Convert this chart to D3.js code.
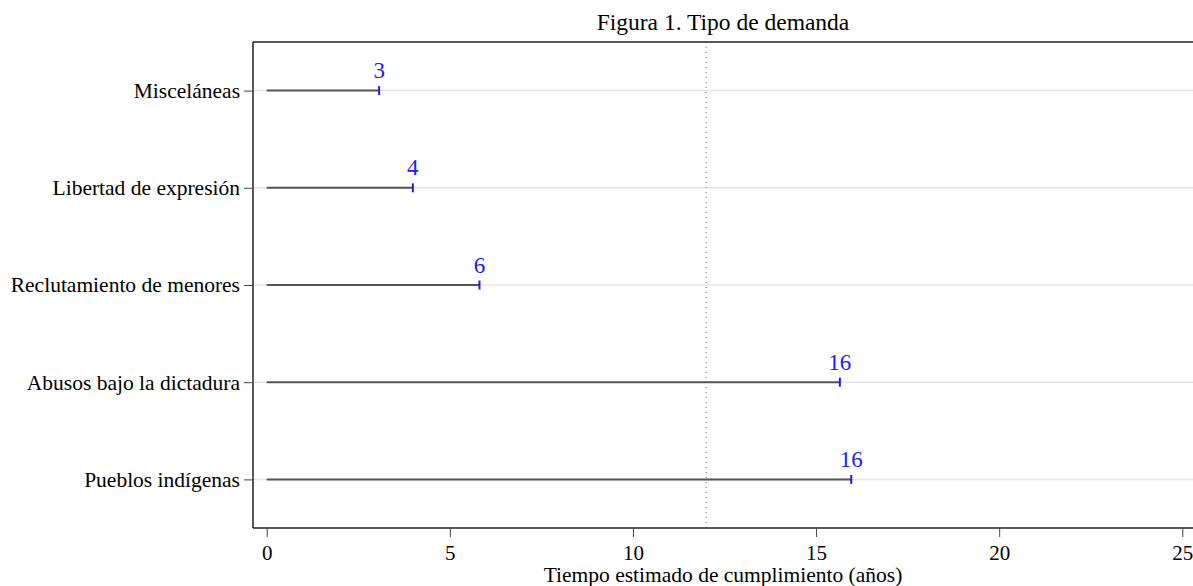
<html>
<head><meta charset="utf-8"></head>
<script src='https://d3js.org/d3.v7.min.js'></script>
<style>
body {margin: 0; background: white;}
text {font-family: "Liberation Serif", "Times New Roman", serif;}
</style>
<body onload='init()'>
<svg width=1193 height=586></svg>
<script>
var categories = ["Misceláneas", "Libertad de expresión", "Reclutamiento de menores", "Abusos bajo la dictadura", "Pueblos indígenas"];
var values = [3.07, 3.99, 5.81, 15.65, 15.96];
var labels = ["3", "4", "6", "16", "16"];
var xTicks = [0, 5, 10, 15, 20, 25];
var refValue = 12;

function init() {
  var svg = d3.select("svg");
  var left = 253, right = 1193, top = 42, bottom = 528;

  var x = d3.scaleLinear().domain([0, 25]).range([266.7, 1182.3]);
  var y = d3.scalePoint().domain(categories).range([top, bottom]).padding(0.5);

  // gridlines
  svg.append("g").selectAll("line").data(categories).enter().append("line")
    .attr("x1", left).attr("x2", right)
    .attr("y1", function(d){ return y(d); }).attr("y2", function(d){ return y(d); })
    .attr("stroke", "#e4e4e4").attr("stroke-width", 1.5);

  // reference line
  svg.append("line")
    .attr("x1", x(refValue)).attr("x2", x(refValue))
    .attr("y1", top).attr("y2", bottom)
    .attr("stroke", "#888").attr("stroke-width", 1.2)
    .attr("stroke-dasharray", "1,4");

  var rows = categories.map(function(c, i){ return {cat: c, v: values[i], lab: labels[i]}; });

  // bars
  svg.append("g").selectAll("line").data(rows).enter().append("line")
    .attr("x1", x(0)).attr("x2", function(d){ return x(d.v); })
    .attr("y1", function(d){ return y(d.cat); }).attr("y2", function(d){ return y(d.cat); })
    .attr("stroke", "#555").attr("stroke-width", 2);

  // caps
  svg.append("g").selectAll("line").data(rows).enter().append("line")
    .attr("x1", function(d){ return x(d.v); }).attr("x2", function(d){ return x(d.v); })
    .attr("y1", function(d){ return y(d.cat) - 4.5; }).attr("y2", function(d){ return y(d.cat) + 4.5; })
    .attr("stroke", "#1a1aff").attr("stroke-width", 2);

  // value labels
  svg.append("g").selectAll("text").data(rows).enter().append("text")
    .attr("x", function(d){ return x(d.v); })
    .attr("y", function(d){ return y(d.cat) - 12.5; })
    .attr("text-anchor", "middle")
    .attr("font-size", 23)
    .attr("fill", "#1a1aff")
    .text(function(d){ return d.lab; });

  // frame line on top
  svg.append("line").attr("x1", left).attr("x2", right).attr("y1", top).attr("y2", top)
    .attr("stroke", "#222").attr("stroke-width", 1.5);

  // y axis
  var gy = svg.append("g").attr("transform", "translate(" + left + ",0)")
    .call(d3.axisLeft(y).tickSize(9).tickPadding(4));
  gy.select(".domain").attr("stroke", "#222").attr("stroke-width", 1.5)
    .attr("d", "M0," + top + "V" + bottom);
  gy.selectAll(".tick line").attr("stroke", "#444");
  gy.selectAll(".tick text").attr("font-size", 21.5).attr("fill", "#000")
    .attr("font-family", "Liberation Serif");

  // x axis
  var gx = svg.append("g").attr("transform", "translate(0," + bottom + ")")
    .call(d3.axisBottom(x).tickValues(xTicks).tickSize(9).tickPadding(8));
  gx.select(".domain").attr("stroke", "#222").attr("stroke-width", 1.5)
    .attr("d", "M" + left + ",0H" + right);
  gx.selectAll(".tick line").attr("stroke", "#444");
  gx.selectAll(".tick text").attr("font-size", 21).attr("fill", "#000")
    .attr("font-family", "Liberation Serif");

  // titles
  svg.append("text").attr("x", (left + right) / 2).attr("y", 30)
    .attr("text-anchor", "middle").attr("font-size", 23.5)
    .text("Figura 1. Tipo de demanda");
  svg.append("text").attr("x", (left + right) / 2).attr("y", 582)
    .attr("text-anchor", "middle").attr("font-size", 21.5)
    .text("Tiempo estimado de cumplimiento (años)");
}
</script>
</body>
</html>
